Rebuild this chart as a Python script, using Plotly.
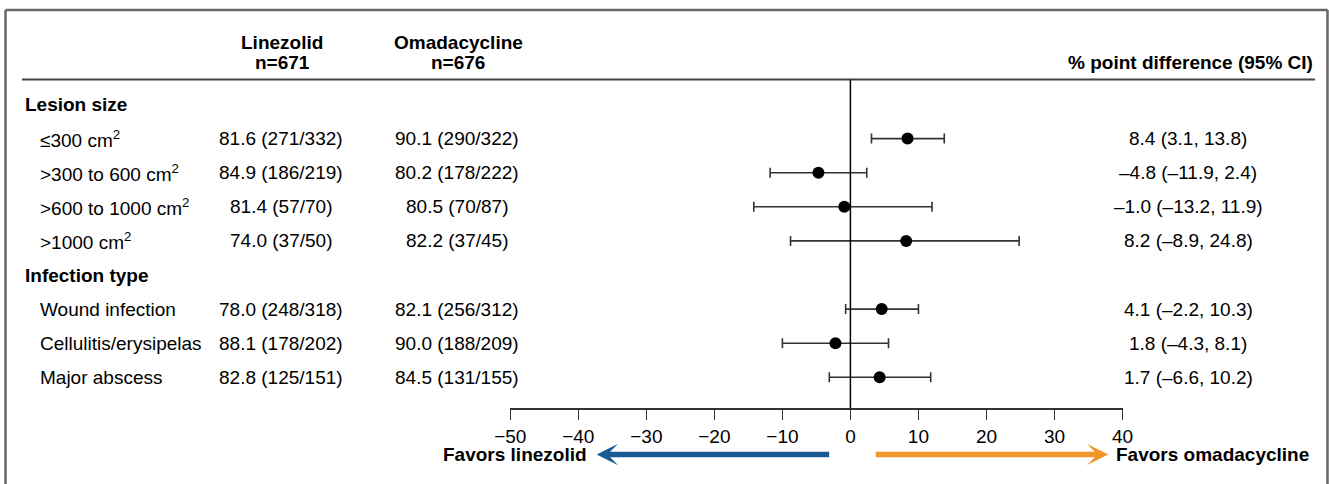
import plotly.graph_objects as go

# ---------------- data ----------------
group_labels = ["Lesion size", "Infection type"]
subgroup_labels = ["≤300 cm<sup>2</sup>", ">300 to 600 cm<sup>2</sup>", ">600 to 1000 cm<sup>2</sup>",
                   ">1000 cm<sup>2</sup>", "Wound infection", "Cellulitis/erysipelas", "Major abscess"]
subgroup_group = [0, 0, 0, 0, 1, 1, 1]
linezolid_text = ["81.6 (271/332)", "84.9 (186/219)", "81.4 (57/70)", "74.0 (37/50)",
                  "78.0 (248/318)", "88.1 (178/202)", "82.8 (125/151)"]
omadacycline_text = ["90.1 (290/322)", "80.2 (178/222)", "80.5 (70/87)", "82.2 (37/45)",
                     "82.1 (256/312)", "90.0 (188/209)", "84.5 (131/155)"]
diff_text = ["8.4 (3.1, 13.8)", "–4.8 (–11.9, 2.4)", "–1.0 (–13.2, 11.9)", "8.2 (–8.9, 24.8)",
             "4.1 (–2.2, 10.3)", "1.8 (–4.3, 8.1)", "1.7 (–6.6, 10.2)"]
# plotted point estimates and CIs (as drawn)
est = [8.4, -4.7, -0.9, 8.2, 4.6, -2.2, 4.3]
ci_lo = [3.1, -11.8, -14.2, -8.8, -0.7, -10.0, -3.1]
ci_hi = [13.8, 2.4, 12.0, 24.8, 10.0, 5.6, 11.8]
x_ticks = [-50, -40, -30, -20, -10, 0, 10, 20, 30, 40]
header_linezolid = ["Linezolid", "n=671"]
header_omadacycline = ["Omadacycline", "n=676"]
header_diff = "% point difference (95% CI)"
favors_left = "Favors linezolid"
favors_right = "Favors omadacycline"

# ---------------- layout helpers ----------------
W, H = 1329, 484
FONT = "Liberation Sans, Arial, Helvetica, sans-serif"
FS = 19
ROW0_PX, ROW_STEP = 104.5, 34.1


def px_to_row(py):
    return (py - ROW0_PX) / ROW_STEP


# row indices: group header then its subgroups
row_of_sub = []
row_of_group = []
r = 0
for g in range(len(group_labels)):
    row_of_group.append(r)
    r += 1
    for i, sg in enumerate(subgroup_group):
        if sg == g:
            row_of_sub.append(r)
            r += 1

fig = go.Figure()
fig.add_trace(go.Scatter(
    x=est, y=row_of_sub, mode="markers",
    marker=dict(color="black", size=12),
    error_x=dict(type="data", symmetric=False,
                 array=[h - e for h, e in zip(ci_hi, est)],
                 arrayminus=[e - l for e, l in zip(est, ci_lo)],
                 color="#333333", thickness=1.6, width=5),
    showlegend=False, hoverinfo="skip"))

ann = []


def add_text(px, row, text, anchor="left", bold=False, size=FS):
    ann.append(dict(x=px / W, xref="paper", y=row, yref="y", text=f"<b>{text}</b>" if bold else text,
                    showarrow=False, xanchor=anchor, yanchor="middle",
                    font=dict(family=FONT, size=size, color="black")))


# headers
add_text(282, px_to_row(42), header_linezolid[0], "center", True)
add_text(282, px_to_row(62), header_linezolid[1], "center", True)
add_text(458, px_to_row(42), header_omadacycline[0], "center", True)
add_text(458, px_to_row(62), header_omadacycline[1], "center", True)
add_text(1315, px_to_row(62), header_diff, "right", True)

for g, lab in enumerate(group_labels):
    add_text(23, row_of_group[g], lab, "left", True)
for i in range(len(subgroup_labels)):
    rr = row_of_sub[i]
    add_text(38, rr, subgroup_labels[i], "left")
    add_text(281, rr, linezolid_text[i], "center")
    add_text(457, rr, omadacycline_text[i], "center")
    add_text(1188, rr, diff_text[i], "center")

# favors arrows
arrow_row = px_to_row(454.5)
ann.append(dict(x=-37.3, y=arrow_row, xref="x", yref="y", ax=-2.9, ay=arrow_row, axref="x", ayref="y",
                showarrow=True, arrowhead=3, arrowwidth=5.5, arrowsize=0.65, arrowcolor="#1c5a96", text=""))
ann.append(dict(x=37.9, y=arrow_row, xref="x", yref="y", ax=3.5, ay=arrow_row, axref="x", ayref="y",
                showarrow=True, arrowhead=3, arrowwidth=5.5, arrowsize=0.65, arrowcolor="#f0962b", text=""))
add_text(589, arrow_row, favors_left, "right", True)
add_text(1114, arrow_row, favors_right, "left", True)

axis_py = 408.3
shapes = [
    # header rule
    dict(type="line", xref="paper", yref="y", x0=22 / W, x1=1315 / W,
         y0=px_to_row(79.5), y1=px_to_row(79.5), line=dict(color="#444444", width=1.8)),
    # zero line
    dict(type="line", xref="x", yref="y", x0=0, x1=0,
         y0=px_to_row(79.5), y1=px_to_row(axis_py), line=dict(color="black", width=1.5)),
    # frame
    dict(type="line", xref="paper", yref="paper", x0=5.5 / W, x1=5.5 / W, y0=1 - 10 / H, y1=-0.05,
         line=dict(color="#666666", width=2.5)),
    dict(type="line", xref="paper", yref="paper", x0=5.5 / W, x1=1327.5 / W, y0=1 - 10 / H, y1=1 - 10 / H,
         line=dict(color="#666666", width=2.5)),
    dict(type="line", xref="paper", yref="paper", x0=1327.5 / W, x1=1327.5 / W, y0=1 - 10 / H, y1=-0.05,
         line=dict(color="#666666", width=2.5)),
]

fig.update_layout(
    width=W, height=H, margin=dict(l=0, r=0, t=0, b=0, autoexpand=False),
    paper_bgcolor="white", plot_bgcolor="rgba(0,0,0,0)",
    xaxis=dict(domain=[510.3 / W, 1122.5 / W], range=[-50, 40], tickvals=x_ticks,
               ticks="outside", ticklen=10, tickwidth=1.5, tickcolor="#333333",
               showline=True, linecolor="#333333", linewidth=1.5,
               showgrid=False, zeroline=False, anchor="free", position=1 - axis_py / H,
               tickfont=dict(family=FONT, size=FS, color="black")),
    yaxis=dict(domain=[0, 1], range=[px_to_row(H), px_to_row(0)], visible=False),
    annotations=ann, shapes=shapes, showlegend=False,
)

fig.write_html(
    "out.html",
    config={"responsive": False, "displayModeBar": False, "staticPlot": True},
    post_script="document.body.style.margin='0px';document.body.style.overflow='hidden';",
)
